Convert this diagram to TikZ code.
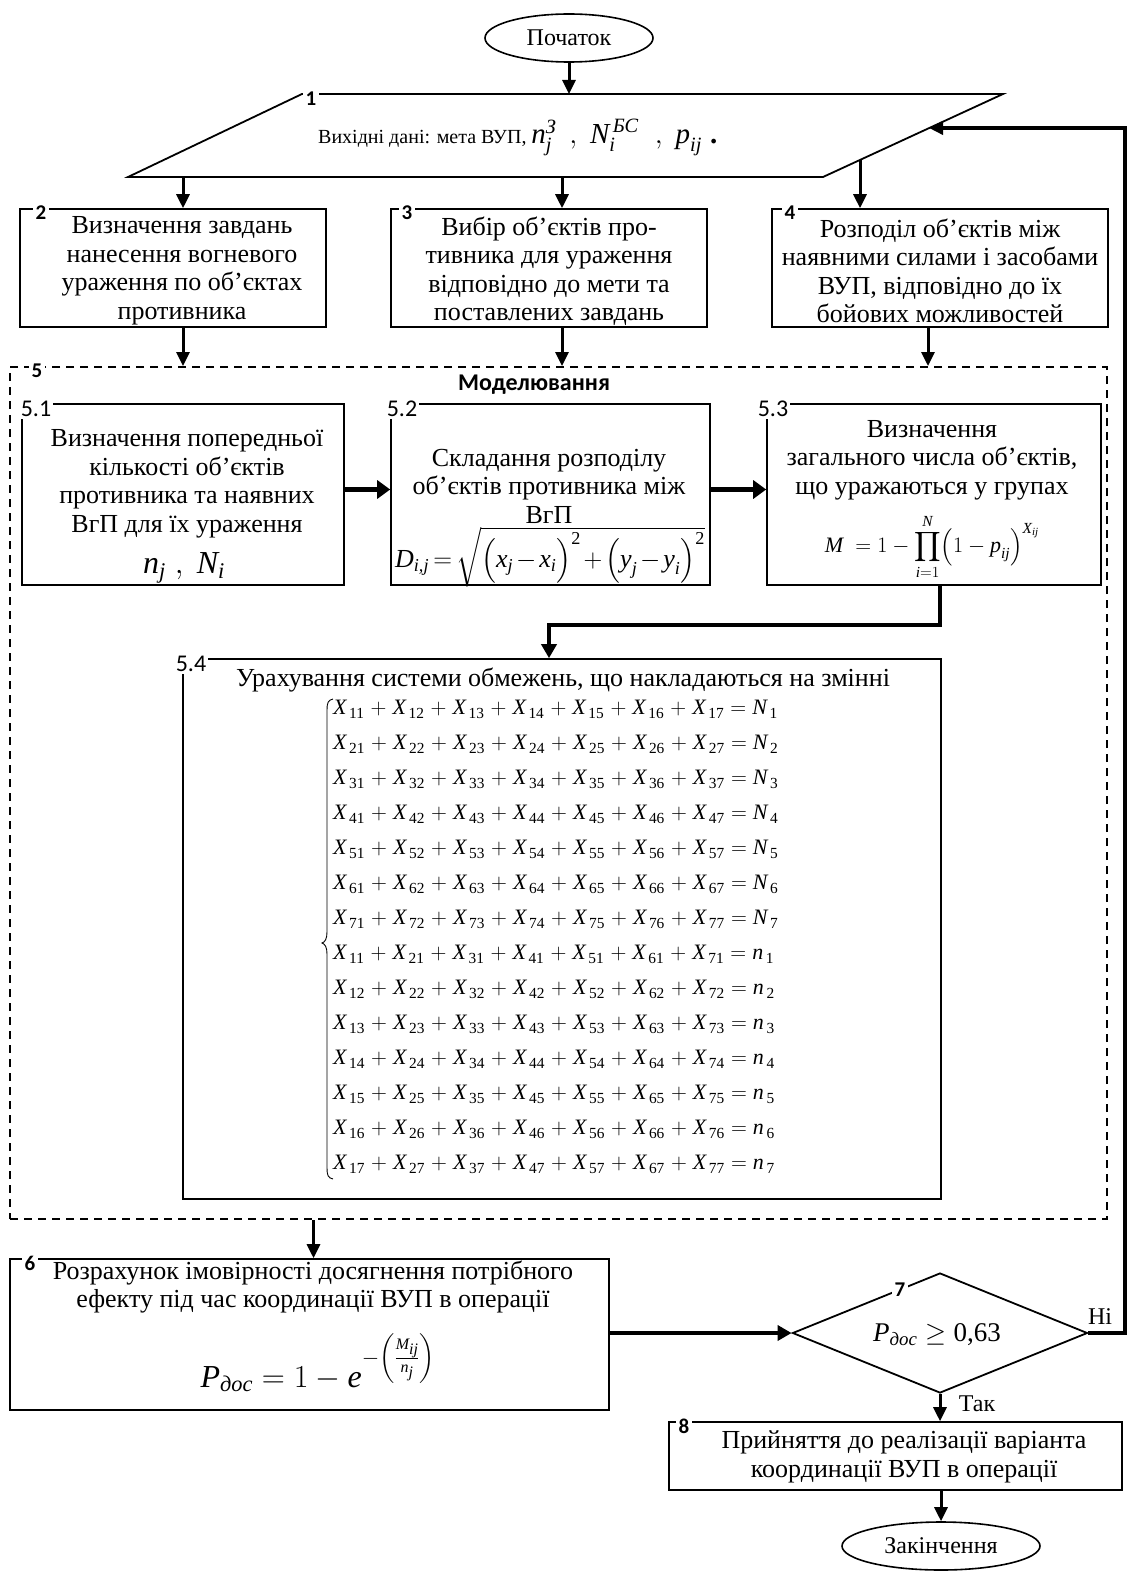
\RequirePackage{fix-cm}
\documentclass[tikz,border=0pt]{standalone}
\usepackage{amsmath}
\usepackage{fontspec}
\setmainfont{Liberation Serif}
\newfontfamily\lblfont{Carlito}
\usetikzlibrary{arrows.meta,shapes.geometric}
\newcommand\mvar[1]{\text{\itshape #1}}
\newcommand\Xv[1]{\mvar{X}_{\mkern3mu\text{#1}}}
\newcommand\Rrow[1]{$\Xv{#11}+\Xv{#12}+\Xv{#13}+\Xv{#14}+\Xv{#15}+\Xv{#16}+\Xv{#17}=\mvar{N}_{\mkern3mu\text{#1}}$}
\newcommand\Crow[1]{$\Xv{1#1}+\Xv{2#1}+\Xv{3#1}+\Xv{4#1}+\Xv{5#1}+\Xv{6#1}+\Xv{7#1}=\mvar{n}_{\mkern3mu\text{#1}}$}
\newcommand\dos{\text{\itshape дос}}
\newcommand\setfs[2]{\fontsize{#1}{#2}\selectfont}
\begin{document}
\begin{tikzpicture}[x=1pt,y=-1pt,
 box/.style={draw,line width=1.6pt,inner sep=0pt},
 txt/.style={align=center,inner sep=0pt,font={\setfs{26}{28.5}\lineskiplimit=-100pt}},
 num/.style={fill=white,inner sep=2.5pt,font=\lblfont\bfseries\setfs{21}{21}},
 subnum/.style={fill=white,inner sep=2pt,font=\lblfont\setfs{24}{24}},
 term/.style={draw,ellipse,line width=1.6pt,inner sep=0pt,font=\setfs{24}{24}},
 arr/.style={line width=3pt,-{Triangle[length=14pt,width=13pt]}},
 arrT/.style={line width=5pt,-{Triangle[length=13pt,width=18pt]}},
 arrM/.style={line width=4pt,-{Triangle[length=14pt,width=15pt]}},
 lab/.style={inner sep=0pt,font=\setfs{24}{24}}]
\fill[white] (0,0) rectangle (1136,1573);
\useasboundingbox (0,0) rectangle (1136,1573);

% start
\node[term,minimum width=168pt,minimum height=48pt] (start) at (569,38) {Початок};

% parallelogram 1
\coordinate (pTL) at (302,94); \coordinate (pTR) at (1003,94);
\coordinate (pBR) at (823,177); \coordinate (pBL) at (128,177);
\draw[line width=1.8pt] (pTL) -- (pTR) -- (pBR) -- (pBL) -- cycle;
\node[inner sep=0pt,anchor=base west] (p1) at (318,144) {{\setfs{20}{24}Вихідні дані: мета ВУП,}{\setfs{29}{29}$\,\mvar{n}_{\mvar{j}}^{\text{\itshape З}}\;\,,\;\mvar{N}_{\mvar{i}}^{\,\text{\itshape БС}}\;\;,\;\mvar{p}_{\mvar{ij}}$\;\textbf{.}}};
\coordinate (pin) at (569,94);
\coordinate (o1) at (183,177); \coordinate (o2) at (562,177); \coordinate (o3) at (860,160);
\coordinate (fbin) at (929,128); \coordinate (fbtop) at (1125,128);

% boxes 2-4
\node[box,minimum width=306pt,minimum height=118pt] (b2) at (173,268) {};
\node[box,minimum width=316pt,minimum height=118pt] (b3) at (549,268) {};
\node[box,minimum width=336pt,minimum height=118pt] (b4) at (940,268) {};
\node[txt] (t2) at (182,271) {Визначення завдань\\нанесення вогневого\\ураження по об’єктах\\противника};
\node[txt] (t3) at (549,271) {Вибір об’єктів про-\\тивника для ураження\\відповідно до мети та\\поставлених завдань};
\node[txt] (t4) at (940,271) {Розподіл об’єктів між\\наявними силами і засобами\\ВУП, відповідно до їх\\бойових можливостей};

% dashed block 5
\node[draw,line width=2pt,dash pattern=on 8pt off 6pt,minimum width=1097pt,minimum height=852pt,inner sep=0pt] (b5) at (558.5,793) {};
\node[inner sep=0pt,font=\lblfont\bfseries\setfs{24}{24}] (mod) at (534,385) {Моделювання};

\node[box,minimum width=322pt,minimum height=181pt] (b51) at (183,494.5) {};
\node[box,minimum width=319pt,minimum height=181pt] (b52) at (550.5,494.5) {};
\node[box,minimum width=334pt,minimum height=181pt] (b53) at (934,494.5) {};
\node[box,minimum width=758pt,minimum height=540pt] (b54) at (562,929) {};

\node[txt] (t51) at (187,484) {Визначення попередньої\\кількості об’єктів\\противника та наявних\\ВгП для їх ураження};
\node[inner sep=0pt,font=\setfs{32}{32}] (f51) at (184,568) {$\mvar{n}_{\mvar{j}}\;,\ \mvar{N}_{\mvar{i}}$};
\node[txt] (t52) at (549,486) {Складання розподілу\\об’єктів противника між\\ВгП};
\node[inner sep=0pt,font={\setfs{26}{26}\medmuskip=2mu\thickmuskip=3mu}] (f52) at (550,557) {$\mvar{D}_{\mvar{i,j}}=\sqrt{\Bigl(\mvar{x}_{\mvar{j}}-\mvar{x}_{\mvar{i}}\Bigr)^{\text{2}}+\Bigl(\mvar{y}_{\mvar{j}}-\mvar{y}_{\mvar{i}}\Bigr)^{\text{2}}}$};
\node[txt] (t53) at (932,460) {Визначення\\загального числа об’єктів,\\що уражаються у групах};
\node[inner sep=0pt,font=\setfs{22}{22}] (f53) at (932,547) {$\displaystyle \mvar{M}\;=1-\prod_{\mvar{i}=1}^{\mvar{N}}\Bigl(1-\mvar{p}_{\mvar{ij}}\Bigr)^{\mvar{X}_{\mvar{ij}}}$};
\node[txt] (t54) at (563,680) {Урахування системи обмежень, що накладаються на змінні};
\node[inner sep=0pt,align=left,anchor=west,font={\setfs{22}{35}\medmuskip=5mu\thickmuskip=5mu}] (eqs) at (333,937)
 {\Rrow1\\\Rrow2\\\Rrow3\\\Rrow4\\\Rrow5\\\Rrow6\\\Rrow7\\\Crow1\\\Crow2\\\Crow3\\\Crow4\\\Crow5\\\Crow6\\\Crow7};
\draw[line width=0.9pt] (333,699) .. controls (328,700) and (327,703) .. (327,710) -- (327,932) .. controls (327,939) and (325,942) .. (322,943) .. controls (325,944) and (327,947) .. (327,954) -- (327,1168) .. controls (327,1175) and (328,1178) .. (333,1179);

% box 6, diamond 7, box 8, end
\node[box,minimum width=599pt,minimum height=151pt] (b6) at (309.5,1334.5) {};
\node[txt] (t6) at (313,1287) {Розрахунок імовірності досягнення потрібного\\ефекту під час координації ВУП в операції};
\node[inner sep=0pt,font=\setfs{32}{32}] (f6) at (318,1363) {$\mvar{P}_{\dos}=1-\mvar{e}^{-\left(\frac{\mvar{M}_{\mvar{ij}}}{\mvar{n}_{\mvar{j}}}\right)}$};
\node[draw,diamond,line width=1.8pt,minimum width=295pt,minimum height=120pt,inner sep=0pt] (d7) at (940,1333) {};
\node[inner sep=0pt,font=\setfs{27}{27}] (f7) at (937,1335) {$\mvar{P}_{\dos}\geq \text{0,63}$};
\node[box,minimum width=453pt,minimum height=68pt] (b8) at (895.5,1456) {};
\node[txt] (t8) at (904,1457) {Прийняття до реалізації варіанта\\координації ВУП в операції};
\node[term,minimum width=198pt,minimum height=48pt] (fin) at (941,1546) {Закінчення};
\node[lab] (yes) at (977,1404) {Так};
\node[lab] (no) at (1100,1317) {Ні};

% number labels
\node[num] (n1) at (311,99) {1};
\node[num] (n2) at (41,213) {2};
\node[num] (n3) at (407,213) {3};
\node[num] (n4) at (790,213) {4};
\node[num] (n5) at (37,371) {5};
\node[num] (n6) at (30,1263) {6};
\node[num] (n7) at (900,1290) {7};
\node[num] (n8) at (684,1426) {8};
\node[subnum] (n51) at (36,409) {5.1};
\node[subnum] (n52) at (402,409) {5.2};
\node[subnum] (n53) at (773,409) {5.3};
\node[subnum] (n54) at (191,664) {5.4};

% connectors
\coordinate (a2) at ([xshift=10pt]b2.south);
\coordinate (a3) at ([xshift=13pt]b3.south);
\coordinate (a4) at ([xshift=-12pt]b4.south);
\coordinate (a6) at ([xshift=4pt]b6.north);
\coordinate (k) at (549,625);
\draw[arr] (start.south) -- (pin);
\draw[arr] (o1) -- (o1 |- b2.north);
\draw[arr] (o2) -- (o2 |- b3.north);
\draw[arr] (o3) -- (o3 |- b4.north);
\draw[arr] (a2) -- (a2 |- b5.north);
\draw[arr] (a3) -- (a3 |- b5.north);
\draw[arr] (a4) -- (a4 |- b5.north);
\draw[arrT] ([yshift=5pt]b51.east) -- ([yshift=5pt]b52.west);
\draw[arrT] ([yshift=5pt]b52.east) -- ([yshift=5pt]b53.west);
\draw[arrM] ([xshift=6pt]b53.south) |- (k) -- (k |- b54.north);
\draw[arr] (a6 |- b5.south) -- (a6);
\draw[arrM] (b6.east |- d7.west) -- (d7.west);
\draw[arr,line width=3.5pt] (d7.east) -| (fbtop) -- (fbin);
\draw[arr] (d7.south) -- (d7.south |- b8.north);
\draw[arr] (b8.south -| fin.north) -- (fin.north);
\end{tikzpicture}
\end{document}
